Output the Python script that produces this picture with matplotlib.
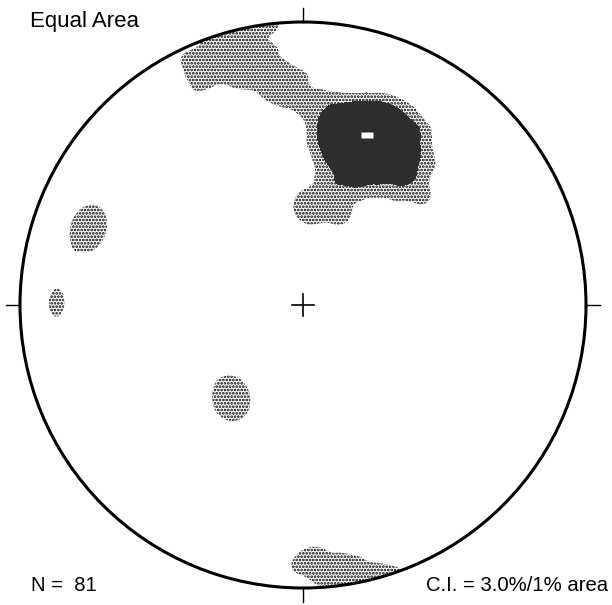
import numpy as np
import matplotlib
matplotlib.use("Agg")
import matplotlib.pyplot as plt
from matplotlib.patches import Circle

# ---- data: poles plotted on the equal-area net (east, north), primitive radius = 1 ----
ne_cluster = [
    (0.144, 0.68), (0.198, 0.68), (0.252, 0.68), (0.306, 0.68), (0.36, 0.68), (0.09, 0.68),
    (0.09, 0.627), (0.144, 0.627), (0.198, 0.627), (0.252, 0.627), (0.306, 0.627), (0.36, 0.627),
    (0.09, 0.575), (0.144, 0.575), (0.198, 0.575), (0.252, 0.575), (0.306, 0.575), (0.36, 0.575),
    (0.09, 0.522), (0.144, 0.522), (0.198, 0.522), (0.252, 0.522), (0.306, 0.522), (0.36, 0.522),
    (0.144, 0.47), (0.198, 0.47), (0.252, 0.47), (0.306, 0.47),
    (0.24, 0.62),
]
ne_fringe = [
    (-0.03, 0.33), (0.02, 0.38), (0.07, 0.34), (0.12, 0.37), (0.17, 0.35),
    (0.44, 0.55), (0.43, 0.45), (0.40, 0.37), (0.35, 0.40),
]
nw_band = [
    (-0.44, 0.865), (-0.32, 0.925), (-0.22, 0.955), (-0.12, 0.96),
    (-0.30, 0.83), (-0.18, 0.85), (-0.39, 0.82), (-0.29, 0.785),
    (-0.07, 0.86), (-0.13, 0.79), (-0.09, 0.73), (-0.04, 0.78), (0.01, 0.74),
]
west_group = [(-0.748, 0.303), (-0.772, 0.237), (-0.76, 0.27)]
far_west_group = [(-0.82, -0.02), (-0.92, -0.02), (-0.87, 0.08)]
south_centre_group = [(-0.29, -0.33), (-0.22, -0.33), (-0.255, -0.255), (-0.25, -0.40)]
south_edge_group = [(-0.04, -0.89), (0.03, -0.90), (0.09, -0.92), (0.15, -0.95), (0.21, -0.945)]
scattered = [
    (0.55, 0.20), (0.65, -0.10), (0.45, -0.45), (0.10, -0.15), (-0.45, -0.10),
    (-0.55, -0.60), (0.70, 0.50), (-0.50, 0.45), (0.30, -0.70), (-0.15, 0.15),
    (0.80, -0.40), (0.60, 0.30), (-0.30, 0.55), (-0.70, -0.30), (0.20, -0.45),
]

n_poles = 81
contour_levels = [3.0, 6.0, 1000.0]          # percent per 1% area
counting_area = 0.01
title_text = "Equal Area"
n_text = "N =  81"
ci_text = "C.I. = 3.0%/1% area"

# ---- helpers ----
def to_vectors(e, n):
    e = np.asarray(e, float)
    n = np.asarray(n, float)
    r = np.clip(np.hypot(e, n), 0, 1)
    theta = 2 * np.arcsin(r / np.sqrt(2))
    az = np.arctan2(e, n)
    return np.stack([np.sin(theta) * np.sin(az),
                     np.sin(theta) * np.cos(az),
                     -np.cos(theta)], axis=-1)

def smooth(a, sigma_cells):
    rad = int(3 * sigma_cells) + 1
    x = np.arange(-rad, rad + 1)
    k = np.exp(-0.5 * (x / sigma_cells) ** 2)
    k /= k.sum()
    a = np.apply_along_axis(lambda m: np.convolve(m, k, mode="same"), 0, a)
    a = np.apply_along_axis(lambda m: np.convolve(m, k, mode="same"), 1, a)
    return a

poles = np.array(ne_cluster + ne_fringe + nw_band + west_group + far_west_group
                 + south_centre_group + south_edge_group + scattered)
pvec = to_vectors(poles[:, 0], poles[:, 1])

# counting grid (counting cone = 1% of hemisphere, antipodal wrap)
cos_cone = 1 - counting_area
g = np.linspace(-1.02, 1.02, 411)
GE, GN = np.meshgrid(g, g)
gvec = to_vectors(GE.ravel(), GN.ravel())
dots = np.abs(gvec @ pvec.T)
density = 100.0 * (dots >= cos_cone).sum(axis=1) / n_poles
density = smooth(density.reshape(GE.shape), 3.5)

# ---- figure ----
W, H = 612, 605
cx, cy, R = 303, 305, 283
plt.rcParams["hatch.color"] = "black"
plt.rcParams["hatch.linewidth"] = 1.3
fig = plt.figure(figsize=(W / 100, H / 100), dpi=100)
ax = fig.add_axes([0, 0, 1, 1])
ax.set_xlim(-cx / R, (W - cx) / R)
ax.set_ylim(-(H - cy) / R, cy / R)
ax.set_aspect("equal")
ax.axis("off")

prim = Circle((0, 0), 1, transform=ax.transData, facecolor="none", edgecolor="none")
ax.add_patch(prim)
cs = ax.contourf(GE, GN, density, levels=contour_levels,
                 colors=["white", "#2e2e2e"],
                 hatches=[".....", None])
cs.set_clip_path(prim)

# maximum marker (centroid of the peak plateau)
inside = np.hypot(GE, GN) <= 1
dmax = np.where(inside, density, -1)
peak = dmax >= dmax.max() - 0.05
ax.plot(GE[peak].mean(), GN[peak].mean(), linestyle="none",
        marker=[(-1, -0.42), (1, -0.42), (1, 0.42), (-1, 0.42), (-1, -0.42)],
        ms=8.6, mfc="white", mec="none")

# primitive circle, ticks, centre cross
ax.add_patch(Circle((0, 0), 1, facecolor="none", edgecolor="black", lw=2.2))
t = 0.05
for (x0, y0, x1, y1) in [(0, 1, 0, 1 + t), (0, -1, 0, -1 - t), (1, 0, 1 + t, 0), (-1, 0, -1 - t, 0)]:
    ax.plot([x0, x1], [y0, y1], color="black", lw=1.0)
c = 0.039
ax.plot([-c, c], [0, 0], color="black", lw=1.2)
ax.plot([0, 0], [-c, c], color="black", lw=1.2)

fig.text(30 / W, 1 - 27 / H, title_text, ha="left", va="baseline",
         family="Liberation Sans", fontsize=16, color="black")
fig.text(31 / W, 1 - 591 / H, n_text, ha="left", va="baseline",
         family="Liberation Sans", fontsize=14.6, color="black")
fig.text(608 / W, 1 - 591 / H, ci_text, ha="right", va="baseline",
         family="Liberation Sans", fontsize=14.6, color="black")

fig.savefig("out.png", dpi=100)
